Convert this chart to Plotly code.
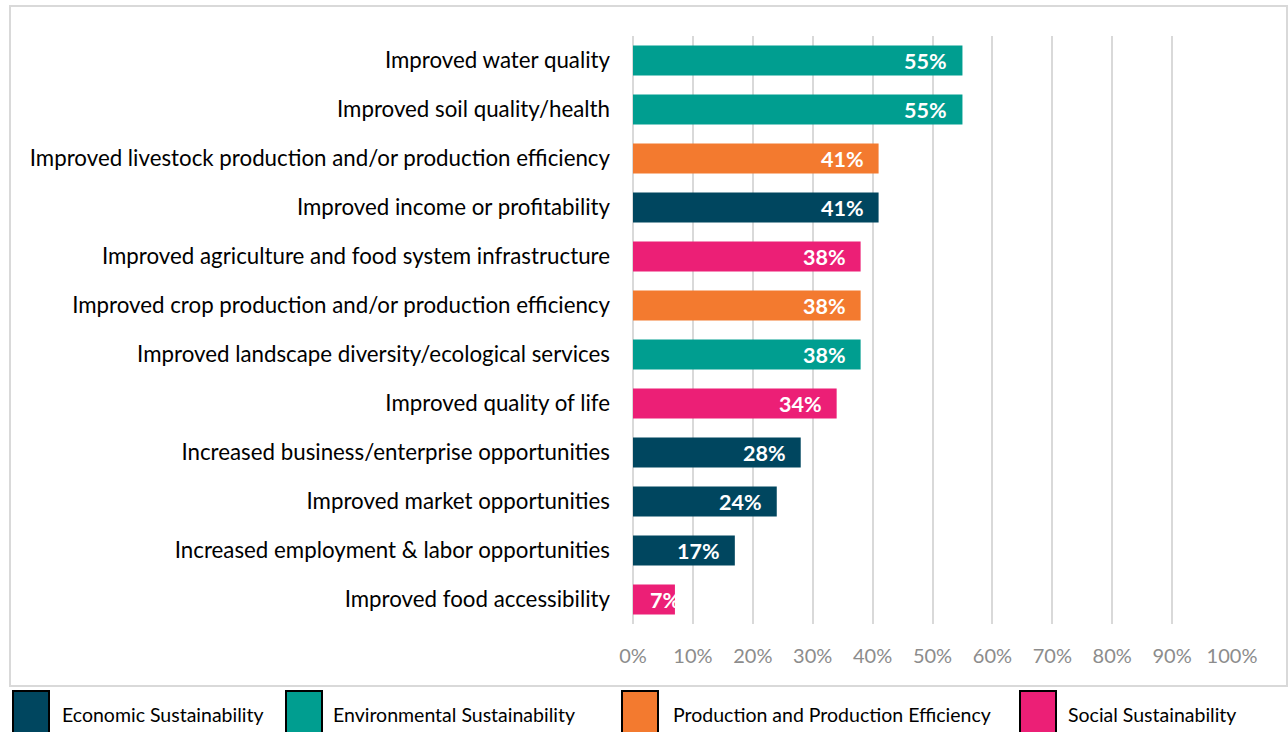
import plotly.graph_objects as go

# Outcomes reported, top to bottom, with the share of respondents and outcome group
categories = [
    "Improved water quality",
    "Improved soil quality/health",
    "Improved livestock production and/or production efficiency",
    "Improved income or profitability",
    "Improved agriculture and food system infrastructure",
    "Improved crop production and/or production efficiency",
    "Improved landscape diversity/ecological services",
    "Improved quality of life",
    "Increased business/enterprise opportunities",
    "Improved market opportunities",
    "Increased employment & labor opportunities",
    "Improved food accessibility",
]
values = [55, 55, 41, 41, 38, 38, 38, 34, 28, 24, 17, 7]
groups = [
    "Environmental", "Environmental", "Production", "Economic",
    "Social", "Production", "Environmental", "Social",
    "Economic", "Economic", "Economic", "Social",
]
x_ticks = [0, 10, 20, 30, 40, 50, 60, 70, 80, 90, 100]

legend_names = [
    ("Economic", "Economic Sustainability"),
    ("Environmental", "Environmental Sustainability"),
    ("Production", "Production and Production Efficiency"),
    ("Social", "Social Sustainability"),
]
colors = {
    "Economic": "#00465F",
    "Environmental": "#009E90",
    "Production": "#F37A2F",
    "Social": "#EC1F76",
}

FONT = "Lato"
W, H = 1288, 732
L, R, T, B = 633, 56, 36, 108
pw, ph = W - L - R, H - T - B


def px_x(p):
    return (p - L) / pw


def px_y(p):
    return (H - B - p) / ph


fig = go.Figure()
fig.add_trace(go.Bar(
    x=values,
    y=categories,
    orientation="h",
    marker=dict(color=[colors[g] for g in groups], line=dict(width=0)),
    width=0.61,
    hoverinfo="x+y",
    showlegend=False,
))

annotations = []
for cat, v in zip(categories, values):
    annotations.append(dict(
        x=v, y=cat, xref="x", yref="y",
        text=f"<b>{v}%</b>", showarrow=False,
        xanchor="right", yanchor="middle",
        xshift=-13 if v >= 10 else 7,
        font=dict(family=FONT, size=21.5, color="white"),
    ))

shapes = [
    # outer chart border
    dict(type="rect", xref="paper", yref="paper",
         x0=px_x(10), x1=px_x(1287), y0=px_y(686), y1=px_y(6),
         line=dict(color="#D9D9D9", width=2), fillcolor="rgba(0,0,0,0)",
         layer="below"),
]

# legend swatches and labels along the bottom
legend_pos = [(13, 60), (286, 331), (622, 671), (1020, 1066)]
for (key, name), (sx, tx) in zip(legend_names, legend_pos):
    shapes.append(dict(
        type="rect", xref="paper", yref="paper",
        x0=px_x(sx), x1=px_x(sx + 36), y0=px_y(740), y1=px_y(691),
        line=dict(color="black", width=2), fillcolor=colors[key],
    ))
    annotations.append(dict(
        x=px_x(tx), y=px_y(714), xref="paper", yref="paper",
        text=name, showarrow=False, xanchor="left", yanchor="middle",
        font=dict(family=FONT, size=19.5, color="black"),
    ))

fig.update_layout(
    width=W, height=H,
    margin=dict(l=L, r=R, t=T, b=B, pad=0),
    paper_bgcolor="white", plot_bgcolor="white",
    font=dict(family=FONT, color="black"),
    xaxis=dict(
        range=[0, 100], tickvals=x_ticks,
        ticktext=[f"{t}%" for t in x_ticks],
        showgrid=True, gridcolor="#D9D9D9", gridwidth=2,
        zeroline=True, zerolinecolor="#D9D9D9", zerolinewidth=2,
        showline=False, ticks="",
        tickfont=dict(family=FONT, size=20, color="#8C8C8C"),
        ticklabelstandoff=18, fixedrange=True,
    ),
    yaxis=dict(
        categoryorder="array", categoryarray=categories[::-1],
        range=[-0.5, len(categories) - 0.5],
        showgrid=False, zeroline=False, showline=False, ticks="",
        tickfont=dict(family=FONT, size=22.3, color="black"),
        ticklabelstandoff=22, fixedrange=True,
    ),
    shapes=shapes,
    annotations=annotations,
)

fig.write_html("out.html")
